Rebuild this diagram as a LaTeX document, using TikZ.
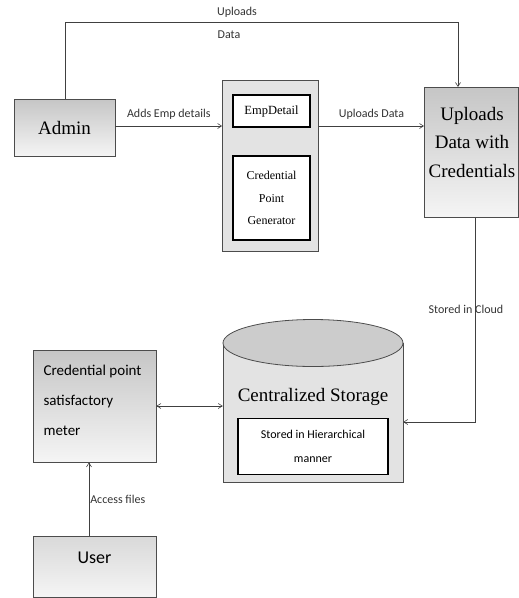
\documentclass[tikz,border=0pt]{standalone}
\usepackage{fontspec}
\setmainfont{Liberation Serif}
\newfontfamily\carlitofont{Carlito}
\usetikzlibrary{arrows.meta}
\tikzset{
  gbox/.style={draw=gray!60!black, line width=0.8pt, top color=gray!45, bottom color=gray!8, inner sep=2pt},
  wbox/.style={draw=black, line width=1.6pt, fill=white, inner sep=1pt, align=center},
  conn/.style={draw=gray!50!black, line width=0.6pt, -{Straight Barb[length=4pt,width=5pt]}},
  lbl/.style={font=\carlitofont\fontsize{12}{14}\selectfont, text=black!80, inner sep=1pt},
}
\begin{document}
\begin{tikzpicture}[x=1pt,y=-1pt]
\useasboundingbox (0,0) rectangle (519,598);
% Admin
\node[gbox, minimum width=101pt, minimum height=57pt, font=\fontsize{19}{20}\selectfont] (admin) at (64.5,127.5) {Admin};
% middle box
\node[draw=gray!60!black, line width=0.8pt, fill=gray!22, minimum width=96pt, minimum height=171pt] (mid) at (270.5,166) {};
\node[wbox, minimum width=77pt, minimum height=32pt, font=\fontsize{12.5}{14}\selectfont] (emp) at (271.5,111) {EmpDetail};
\node[wbox, minimum width=77pt, minimum height=84pt, font=\fontsize{12}{22.5}\selectfont] (cpg) at (271.5,198) {Credential\\Point\\Generator};
% Uploads Data with Credentials
\node[gbox, minimum width=94pt, minimum height=130pt, anchor=north west] (up) at (424,87) {};
\node[align=center, font=\fontsize{19}{28.5}\selectfont] (uptext) at (472,142) {Uploads\\Data with\\Credentials};
% Credential point meter
\node[gbox, minimum width=123pt, minimum height=112pt] (meter) at (94.5,406) {};
\node[align=left, font=\carlitofont\fontsize{15}{30}\selectfont, anchor=west] (metert) at (40,400) {Credential point\\satisfactory\\meter};
% User
\node[gbox, top color=gray!30, bottom color=gray!8, minimum width=123pt, minimum height=61pt] (user) at (94.5,566.5) {};
\node[font=\carlitofont\fontsize{18}{20}\selectfont] (usert) at (94.5,558) {User};
% Cylinder
\fill[gray!22] (223,343) -- (223,482) -- (403,482) -- (403,343) -- cycle;
\draw[gray!60!black, line width=0.8pt] (223,343) -- (223,482) -- (403,482) -- (403,343);
\draw[gray!60!black, line width=0.8pt, fill=gray!40] (313,343) ellipse [x radius=90pt, y radius=23.5pt];
\node[minimum width=180pt, minimum height=115pt, inner sep=0pt] (stor) at (313,424.5) {};
\node[font=\fontsize{19}{20}\selectfont] (stortext) at (313,397) {Centralized Storage};
\node[wbox, minimum width=150pt, minimum height=56pt, font=\carlitofont\fontsize{12}{24}\selectfont] (hier) at (313,446.5) {Stored in Hierarchical\\manner};
% connectors
\coordinate (c1) at (65,22.7);
\coordinate (c2) at (458,22.7);
\draw[conn] (admin.north -| c1) -- (c1) -- (c2) -- (c2 |- up.north);
\node[lbl] (l1) at (237,12) {Uploads};
\node[lbl] (l2) at (229,35) {Data};
\draw[conn] (admin.east |- 0,126) -- (mid.west |- 0,126) node[lbl, midway, above=5pt] (l3) {Adds Emp details};
\draw[conn] (mid.east |- 0,126) -- (up.west |- 0,126) node[lbl, midway, above=5pt] (l4) {Uploads Data};
\coordinate (c3) at (475,422);
\draw[conn] (up.south -| c3) -- (c3) -- (stor.east |- c3);
\node[lbl] (l5) at (466,309) {Stored in Cloud};
\draw[draw=gray!50!black, line width=0.6pt, {Straight Barb[length=4pt,width=5pt]}-{Straight Barb[length=4pt,width=5pt]}] (meter.east |- 0,406) -- (stor.west |- 0,406);
\coordinate (c4) at (89,0);
\draw[conn] (user.north -| c4) -- (meter.south -| c4) node[lbl, pos=0.5, right=0pt] (l6) {Access files};
\end{tikzpicture}
\end{document}
